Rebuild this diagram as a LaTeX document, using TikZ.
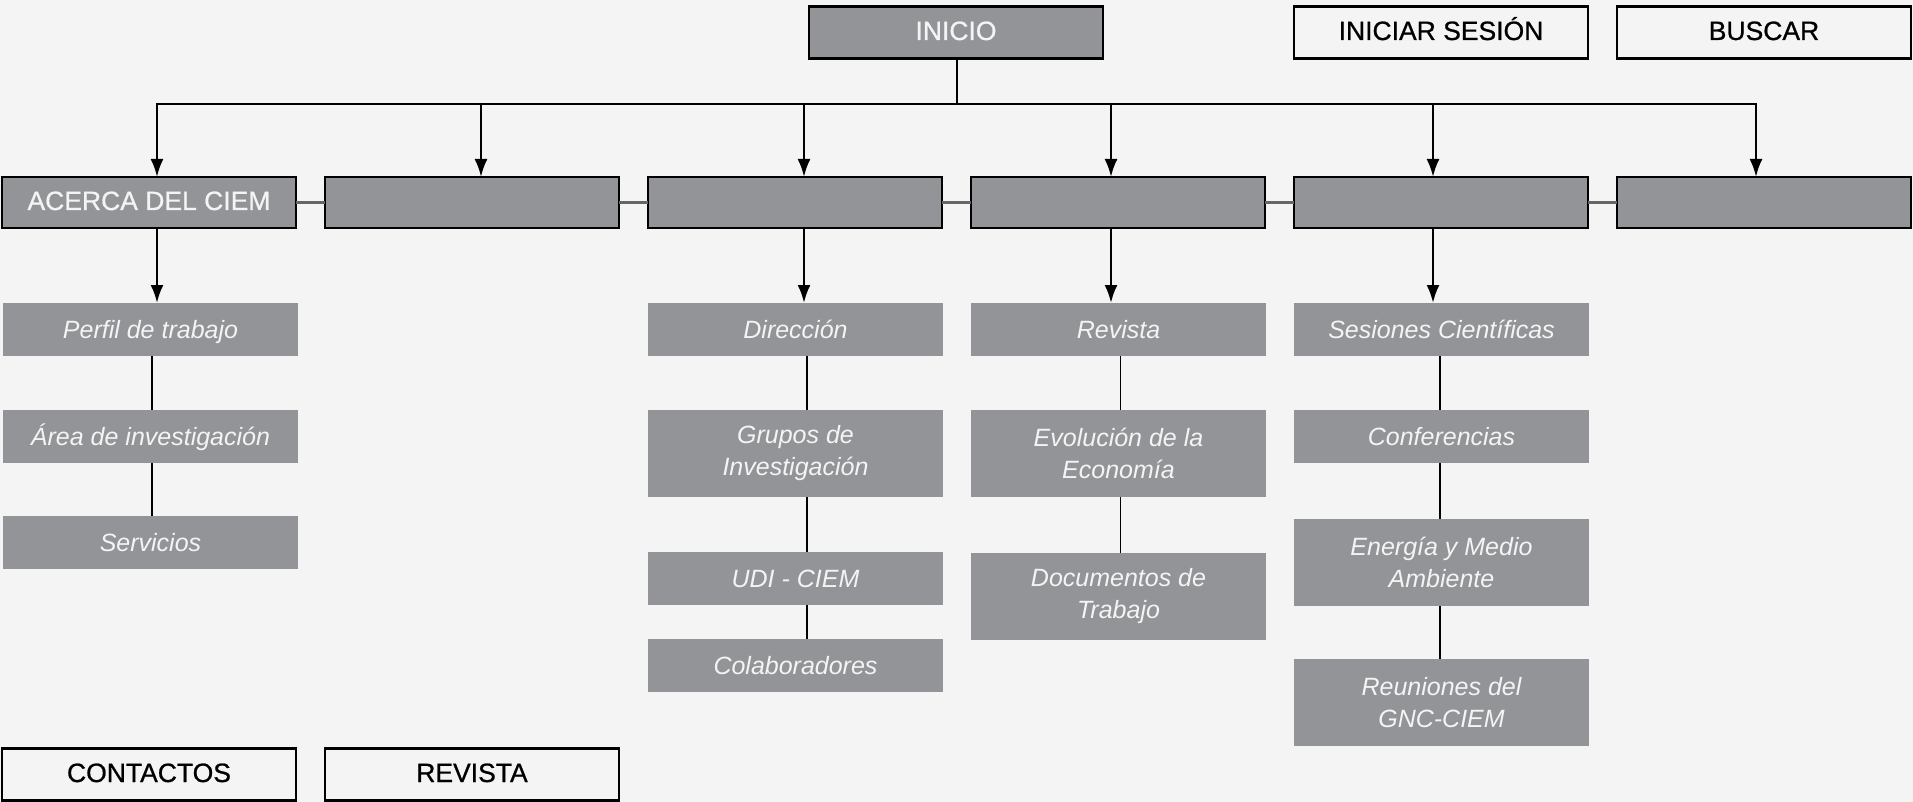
\documentclass[tikz,border=0pt]{standalone}
\usepackage{fontspec}
\setmainfont{Liberation Sans}
\newfontfamily\hdrfont[FakeBold=0.8]{Liberation Sans}
\usetikzlibrary{arrows.meta}
\definecolor{bgc}{HTML}{F4F4F4}
\definecolor{boxgray}{HTML}{939497}
\definecolor{txtw}{HTML}{F4F4F4}
\tikzset{
  basebox/.style={anchor=north west, inner sep=0pt, outer sep=0pt, minimum width=294pt, align=center},
  graybox/.style={basebox, fill=boxgray, draw=black, line width=2.5pt, text=txtw, minimum height=51pt, font=\hdrfont\fontsize{26.5}{30}\selectfont, text height=19pt, text depth=4pt},
  whitebox/.style={basebox, fill=bgc, draw=black, line width=2.5pt, text=black, minimum height=52pt, font=\hdrfont\fontsize{26.5}{30}\selectfont, text height=19pt, text depth=4pt},
  subbox/.style={basebox, fill=boxgray, text=txtw, font=\itshape\fontsize{25}{32}\selectfont},
  sub1/.style={subbox, minimum height=53pt, text height=18pt, text depth=0pt},
  sub2/.style={subbox, minimum height=87pt},
  conn/.style={line width=2.5pt, black},
  arr/.style={conn, -{Latex[length=18pt,width=13pt]}},
  thin/.style={line width=1.8pt, black},
  link/.style={line width=2.5pt, black!60},
}
\begin{document}
\begin{tikzpicture}[x=1pt,y=-1pt]
\fill[bgc] (0,0) rectangle (1913,802);
\useasboundingbox (0,0) rectangle (1913,802);

% top row
\node[graybox, minimum height=52pt] (ini) at (809,6.5) {INICIO};
\node[whitebox] (ses) at (1294,6.5) {INICIAR SESIÓN};
\node[whitebox] (bus) at (1617,6.5) {BUSCAR};

% second row
\node[graybox] (m0) at (2,177) {ACERCA DEL CIEM};
\node[graybox] (m1) at (325,177) {};
\node[graybox] (m2) at (648,177) {};
\node[graybox] (m3) at (971,177) {};
\node[graybox] (m4) at (1294,177) {};
\node[graybox] (m5) at (1617,177) {};

\draw[link] (m0.east) -- (m1.west);
\draw[link] (m1.east) -- (m2.west);
\draw[link] (m2.east) -- (m3.west);
\draw[link] (m3.east) -- (m4.west);
\draw[link] (m4.east) -- (m5.west);

% distribution bar
\coordinate (b0) at (157,104);
\coordinate (b1) at (481,104);
\coordinate (b2) at (804,104);
\coordinate (b3) at (1111,104);
\coordinate (b4) at (1433,104);
\coordinate (b5) at (1756,104);
\draw[conn] ([xshift=1pt]ini.south) -- ([xshift=1pt]ini.south |- b0);
\draw[conn, line cap=rect] (b0) -- (b5);
\draw[arr] (b0) -- (b0 |- m0.north);
\draw[arr] (b1) -- (b1 |- m1.north);
\draw[arr] (b2) -- (b2 |- m2.north);
\draw[arr] (b3) -- (b3 |- m3.north);
\draw[arr] (b4) -- (b4 |- m4.north);
\draw[arr] (b5) -- (b5 |- m5.north);

% column 0
\node[sub1, minimum width=295pt] (p1) at (3,303) {Perfil de trabajo};
\node[sub1, minimum width=295pt] (p2) at (3,410) {Área de investigación};
\node[sub1, minimum width=295pt] (p3) at (3,516) {Servicios};
\draw[arr] (b0 |- m0.south) -- (b0 |- p1.north);
\draw[thin] ([xshift=1.5pt]p1.south) -- ([xshift=1.5pt]p2.north);
\draw[thin] ([xshift=1.5pt]p2.south) -- ([xshift=1.5pt]p3.north);

% column 2
\node[sub1, minimum width=295pt] (d1) at (648,303) {Dirección};
\node[sub2, minimum width=295pt] (d2) at (648,410) {Grupos de\\Investigación};
\node[sub1, minimum width=295pt] (d3) at (648,552) {UDI - CIEM};
\node[sub1, minimum width=295pt] (d4) at (648,639) {Colaboradores};
\draw[arr] (b2 |- m2.south) -- (b2 |- d1.north);
\draw[thin] ([xshift=11.5pt]d1.south) -- ([xshift=11.5pt]d2.north);
\draw[thin] ([xshift=11.5pt]d2.south) -- ([xshift=11.5pt]d3.north);
\draw[thin] ([xshift=11.5pt]d3.south) -- ([xshift=11.5pt]d4.north);

% column 3
\node[sub1, minimum width=295pt] (r1) at (971,303) {Revista};
\node[sub2, minimum width=295pt] (r2) at (971,410) {Evolución de la\\Economía};
\node[sub2, minimum width=295pt] (r3) at (971,553) {Documentos de\\Trabajo};
\draw[arr] (b3 |- m3.south) -- (b3 |- r1.north);
\draw[thin] ([xshift=2pt]r1.south) -- ([xshift=2pt]r2.north);
\draw[thin] ([xshift=2pt]r2.south) -- ([xshift=2pt]r3.north);

% column 4
\node[sub1, minimum width=295pt] (s1) at (1294,303) {Sesiones Científicas};
\node[sub1, minimum width=295pt] (s2) at (1294,410) {Conferencias};
\node[sub2, minimum width=295pt] (s3) at (1294,519) {Energía y Medio\\Ambiente};
\node[sub2, minimum width=295pt] (s4) at (1294,659) {Reuniones del\\GNC-CIEM};
\draw[arr] (b4 |- m4.south) -- (b4 |- s1.north);
\draw[thin] ([xshift=-1.5pt]s1.south) -- ([xshift=-1.5pt]s2.north);
\draw[thin] ([xshift=-1.5pt]s2.south) -- ([xshift=-1.5pt]s3.north);
\draw[thin] ([xshift=-1.5pt]s3.south) -- ([xshift=-1.5pt]s4.north);

% bottom row
\node[whitebox] (con) at (2,748.5) {CONTACTOS};
\node[whitebox] (rev) at (325,748.5) {REVISTA};
\end{tikzpicture}
\end{document}
